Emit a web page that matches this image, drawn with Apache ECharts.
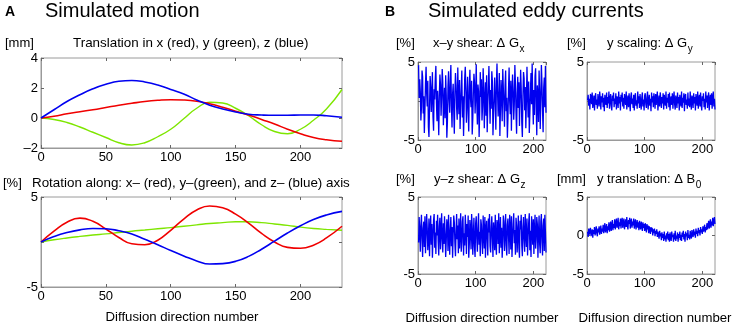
<!DOCTYPE html>
<html>
<head>
<meta charset="utf-8">
<script src="https://cdn.jsdelivr.net/npm/echarts@6/dist/echarts.min.js"></script>
<style>
html, body { margin: 0; padding: 0; background: #fff; }
#main { width: 737px; height: 326px; }
</style>
</head>
<body>
<div id="main"></div>
<script>
// ---- panel A: simulated motion (smooth curves, read every 10 directions) ----
var motionX = [0, 10, 20, 30, 40, 50, 60, 70, 80, 90, 100, 110, 120, 130, 140, 150, 160, 170, 180, 190, 200, 210, 220, 232];

var transX = [0, 0.12, 0.28, 0.42, 0.55, 0.7, 0.85, 0.98, 1.1, 1.18, 1.22, 1.2, 1.12, 0.95, 0.72, 0.45, 0.2, -0.1, -0.4, -0.75, -1.05, -1.3, -1.45, -1.55];
var transY = [0, -0.1, -0.3, -0.6, -0.95, -1.3, -1.65, -1.8, -1.65, -1.25, -0.75, -0.05, 0.65, 1.05, 1.0, 0.65, 0.15, -0.45, -0.9, -1.05, -0.75, -0.15, 0.6, 1.9];
var transZ = [0, 0.55, 1.1, 1.55, 1.95, 2.25, 2.45, 2.5, 2.4, 2.2, 1.9, 1.6, 1.2, 0.85, 0.6, 0.4, 0.25, 0.2, 0.18, 0.18, 0.2, 0.2, 0.15, 0.05];

var rotX = [0, 1.2, 2.2, 2.65, 2.3, 1.45, 0.5, -0.2, -0.3, 0.2, 1.3, 2.55, 3.55, 4.0, 3.8, 3.1, 2.1, 0.95, 0.0, -0.6, -0.7, -0.35, 0.45, 1.75];
var rotY = [0, 0.25, 0.45, 0.62, 0.77, 0.9, 1.05, 1.2, 1.33, 1.47, 1.6, 1.75, 1.9, 2.05, 2.15, 2.25, 2.25, 2.15, 2.0, 1.85, 1.65, 1.5, 1.4, 1.3];
var rotZ = [0, 0.6, 1.05, 1.35, 1.5, 1.47, 1.25, 0.9, 0.3, -0.3, -0.95, -1.55, -2.1, -2.45, -2.4, -2.15, -1.6, -0.8, 0.1, 1.0, 1.8, 2.5, 3.0, 3.4];

// ---- panel B: simulated eddy currents (one value per direction, 1..222) ----
var shearGx = [
  4.6, 0.4, 2.8, 1.2, -2.5, -0.8, 3.9, 3.1, -1.6, 0.6, -4.1, -1.2, 2.3, 4.4, 1.0, -0.7, 2.6, -3.3, -4.6, -0.9,
  3.2, 1.8, -1.4, 0.9, 3.7, -2.0, -3.8, 1.5, 0.2, 2.9, 4.5, -0.3, -2.6, 1.3, -1.1, -4.4, 0.7, 3.4, 2.1, -1.9,
  0.5, 4.1, 2.4, -3.1, -0.4, 1.7, -2.2, 3.3, 0.8, -4.7, -2.7, 1.9, 3.8, 0.1, -1.5, 2.5, 4.6, -0.6, -3.4, 0.9,
  2.2, -1.3, -4.2, 1.1, 3.6, 2.0, -0.9, -2.4, 4.3, 0.3, -1.7, 2.7, -3.6, -0.5, 1.6, 3.9, -2.1, 0.6, -4.5, -1.0,
  2.9, 4.4, 1.4, -2.8, 0.0, 3.1, -1.2, -3.9, 1.8, 4.0, 0.4, -0.8, 2.6, -4.3, -2.3, 1.0, 3.5, 2.3, -1.6, 0.7,
  4.7, -0.2, -3.0, 2.1, 1.2, -4.6, -1.4, 3.7, 0.5, 2.8, -2.5, -0.6, 4.2, 1.6, -3.5, 0.3, 2.4, -1.9, 3.3, -4.0,
  -0.7, 1.9, 4.5, 0.8, -2.9, 1.4, -1.0, 3.8, 2.5, -4.4, -1.8, 0.6, 3.0, -0.3, -3.7, 2.2, 4.8, 1.1, -2.0, 0.2,
  3.6, -4.5, -1.1, 2.7, 0.9, -2.6, 4.1, 1.7, -0.5, -3.3, 2.0, 3.9, -1.3, 0.4, -4.7, -2.2, 1.5, 4.3, 0.0, -1.7,
  2.6, -3.8, 0.8, 3.4, 1.3, -2.4, -0.4, 4.6, 2.2, -1.5, -4.2, 1.0, 3.1, -0.9, 2.4, -3.2, 0.5, 4.0, 1.6, -2.8,
  -4.6, 0.7, 3.7, 2.9, -1.2, 1.8, -3.5, -0.2, 4.4, 0.9, -2.1, 2.5, -4.1, -1.6, 1.2, 3.6, -0.4, 4.8, 0.3, -3.0,
  1.4, -1.8, 3.2, 4.2, -0.6, -4.4, 2.0, 0.6, -2.7, 3.9, 1.1, -3.6, 0.2, 4.6, 2.3, -1.3, -4.0, 1.7, 3.0, -0.8,
  4.5, -1.5
];
var scaleGy = [
  0.1, 0.8, -0.6, 0.3, -1.1, 0.9, 0.5, -0.4, 1.1, -0.9, -0.2, 0.7, -1.2, 0.4, 1.0, -0.5, 0.2, -1.0, 0.9, 0.0,
  -0.7, 1.2, 0.3, -1.1, 0.6, -0.2, 1.0, -0.8, 0.4, -1.3, 0.8, 0.1, -0.5, 1.1, -0.9, 0.5, -0.3, 1.2, -1.0, 0.2,
  0.9, -0.6, -1.2, 0.7, 0.0, 1.1, -0.8, 0.3, -0.4, 1.0, -1.1, 0.6, 0.2, -0.9, 1.2, -0.3, 0.5, -1.2, 0.8, -0.1,
  1.1, -0.7, 0.4, -1.0, 0.9, 0.2, -0.5, 1.2, -1.1, 0.0, 0.7, -0.8, 1.0, -0.2, -1.3, 0.6, 1.1, -0.4, 0.3, -0.9,
  0.8, -1.2, 0.5, 1.0, -0.6, 0.1, -1.0, 1.2, -0.3, 0.6, -0.9, 0.9, -0.1, -1.1, 0.4, 1.1, -0.7, 0.2, -1.2, 0.7,
  1.0, -0.4, -0.9, 0.5, 1.2, -1.1, 0.0, 0.8, -0.6, 0.3, -1.3, 1.1, -0.2, 0.6, -0.8, 1.0, 0.2, -1.0, 0.9, -0.5,
  0.4, 1.2, -1.2, -0.1, 0.7, -0.7, 1.1, 0.3, -0.9, 0.5, -0.3, 1.0, -1.1, 0.8, 0.0, -0.6, 1.2, -1.0, 0.4, -0.2,
  0.9, -0.8, 1.1, -1.2, 0.2, 0.6, -0.5, 1.0, -1.0, 0.3, 1.2, -0.4, -1.1, 0.7, 0.1, -0.9, 1.1, -0.3, 0.5, -1.2,
  0.8, 0.0, -0.7, 1.2, -0.9, 0.4, -0.2, 1.0, -1.3, 0.6, 0.9, -0.5, 0.2, -1.0, 1.1, -0.6, 0.3, -0.8, 1.2, -0.1,
  -1.1, 0.7, 0.4, -0.9, 1.0, -0.3, 0.5, -1.2, 0.9, 0.1, -0.6, 1.2, -1.0, 0.2, 0.8, -0.7, 1.1, -0.4, -1.2, 0.6,
  0.0, 1.0, -0.8, 0.3, -1.1, 1.2, -0.2, 0.7, -0.9, 0.5, 1.1, -1.2, 0.1, 0.8, -0.5, 1.0, -1.0, 0.4, 1.2, -0.7,
  0.3, -1.1
];
var shearGz = [
  -0.9, 2.4, 0.6, -2.1, 1.3, 2.7, -0.4, -2.8, 0.9, 1.8, -1.5, 2.5, -2.3, 0.2, 2.8, 1.0, -1.9, -0.5, 2.2, -2.7,
  0.7, 2.6, -1.2, 1.5, -2.9, -0.3, 2.0, 2.8, -1.6, 0.4, -2.4, 1.9, 0.0, 2.7, -0.8, -2.6, 1.2, 2.3, -1.8, 0.5,
  2.9, -0.6, -2.2, 1.6, -1.1, 2.5, 0.3, -2.8, -0.7, 2.1, 1.4, -2.0, 2.7, -0.2, -2.5, 0.8, 2.4, -1.4, 1.1, -2.9,
  0.1, 2.6, 1.7, -1.0, -2.7, 0.6, 2.8, -0.5, 1.3, -2.3, 2.2, -1.7, 0.4, 2.9, -2.1, -0.9, 1.8, 2.5, -2.6, 0.3,
  -1.3, 2.7, 0.9, -2.4, 1.5, -0.2, 2.6, -2.9, -1.1, 2.0, 0.7, -1.8, 2.8, 1.2, -2.5, 0.0, 2.3, -1.5, -2.8, 1.6,
  2.5, -0.4, -2.1, 1.0, 2.9, -1.2, 0.5, -2.7, 2.1, 1.4, -0.8, -2.4, 2.6, 0.2, -1.7, 2.4, -2.9, 0.8, 1.9, -0.6,
  -2.6, 2.2, 0.4, 2.8, -1.4, -2.2, 1.1, 2.5, -0.3, -2.8, 1.7, 0.6, -1.9, 2.7, -0.9, -2.5, 2.0, 1.3, -1.1, 2.9,
  -2.3, 0.3, 2.4, -1.6, 1.0, -2.9, -0.7, 2.6, 1.8, -2.0, 0.5, 2.8, -1.3, -2.6, 1.4, 2.2, -0.1, -2.4, 2.7, 0.9,
  -1.8, 2.5, -2.8, -0.4, 1.6, 2.9, -1.0, 0.7, -2.5, 2.3, 1.2, -2.2, 0.2, 2.6, -1.6, -2.9, 1.9, 0.8, 2.7, -1.3,
  -2.7, 1.1, 2.4, -0.6, -2.1, 2.8, 0.4, -1.5, 2.2, -2.6, -0.2, 1.7, 2.9, -1.9, 0.6, -2.8, 2.5, 1.0, -1.2, 2.1,
  -2.4, 0.9, 2.7, -1.7, -0.5, 2.4, 1.5, -2.9, 0.3, 2.6, -1.1, -2.3, 1.8, 2.8, -0.8, -2.6, 1.3, 2.2, -2.0, 2.7,
  0.5, -2.2
];
var transB0 = [
  0.5, -0.2, 0.9, 0.1, 0.6, 1.0, -0.1, 0.4, 0.8, -0.3, 0.7, 0.2, 1.1, 0.0, 0.5, 1.2, 0.3, -0.1, 0.9, 0.4,
  1.2, 0.1, 0.7, 1.3, 0.2, 0.9, 0.5, 1.4, 0.3, 1.0, 1.6, 0.4, 0.8, 1.5, 0.3, 1.2, 0.7, 1.7, 0.5, 1.1,
  1.8, 0.6, 1.3, 2.0, 0.7, 1.5, 1.0, 2.1, 0.8, 1.6, 2.2, 1.0, 1.4, 2.3, 0.8, 1.7, 1.2, 2.2, 0.9, 1.9,
  2.3, 1.0, 1.6, 2.2, 0.8, 1.4, 2.1, 1.1, 2.4, 1.3, 0.8, 2.0, 1.5, 2.3, 0.9, 1.7, 2.2, 1.0, 1.8, 1.3,
  2.2, 0.9, 1.6, 2.1, 0.8, 1.4, 2.0, 1.0, 1.7, 0.7, 1.9, 1.2, 0.8, 1.8, 1.3, 0.6, 1.7, 1.0, 1.5, 0.6,
  1.6, 1.0, 0.4, 1.5, 0.8, 1.3, 0.3, 1.2, 0.7, 0.2, 1.1, 0.5, 1.0, 0.0, 0.8, 0.3, 0.9, -0.1, 0.6, 0.2,
  0.8, -0.2, 0.5, 0.1, -0.4, 0.6, -0.1, 0.3, -0.6, 0.4, -0.3, 0.2, -0.7, 0.5, -0.5, 0.0, -0.8, 0.3, -0.4, 0.5,
  -0.6, 0.2, -0.8, 0.4, -0.3, -0.7, 0.5, -0.2, 0.1, -0.8, 0.3, -0.5, 0.6, -0.7, 0.0, -0.4, 0.4, -0.8, 0.2, -0.3,
  0.5, -0.6, 0.1, -0.7, 0.4, -0.2, 0.6, -0.5, 0.2, -0.8, 0.5, -0.1, 0.3, -0.6, 0.7, -0.3, 0.1, -0.5, 0.6, 0.0,
  -0.4, 0.7, 0.1, -0.2, 0.8, 0.0, 0.5, -0.3, 0.9, 0.2, 0.6, -0.1, 1.0, 0.3, 0.7, 0.0, 1.1, 0.4, 0.8, 0.2,
  1.2, 0.5, 0.9, 1.4, 0.4, 1.1, 0.7, 1.6, 0.8, 1.3, 1.9, 0.9, 1.5, 2.1, 1.0, 1.8, 1.3, 2.3, 1.2, 1.9,
  2.4, 1.5
];

var FONT = '"Liberation Sans", Arial, sans-serif';
var BOX = '#9a9a9a';
var RED = '#f00000', GREEN = '#7ee600', BLUE = '#0000f0';

var chart = echarts.init(document.getElementById('main'));

// plot boxes, in pixels
var boxes = [
  { left: 41, top: 58, width: 301, height: 90 },   // A translation
  { left: 41, top: 197, width: 301, height: 90 },  // A rotation
  { left: 418, top: 62, width: 128, height: 78 },  // B Gx
  { left: 587, top: 62, width: 128, height: 78 },  // B Gy
  { left: 418, top: 197, width: 128, height: 77 }, // B Gz
  { left: 587, top: 197, width: 128, height: 77 }  // B B0
];

var xAxes = [], yAxes = [];
function addAxes(gi, xmax, xint, ymin, ymax, yint, yfmt) {
  var tick = { inside: true, length: 3, lineStyle: { color: '#666' } };
  xAxes.push({
    type: 'value', gridIndex: gi, min: 0, max: xmax, interval: xint,
    axisLine: { show: true, onZero: false, lineStyle: { color: BOX } },
    axisTick: tick, splitLine: { show: false },
    axisLabel: { color: '#000', fontSize: 13, fontFamily: FONT, margin: 3, showMaxLabel: false }
  });
  // matlab box: ticks on the top and right edges too
  xAxes.push({
    type: 'value', gridIndex: gi, position: 'top', min: 0, max: xmax, interval: xint,
    axisLine: { show: false, onZero: false }, axisTick: tick, splitLine: { show: false },
    axisLabel: { show: false }
  });
  yAxes.push({
    type: 'value', gridIndex: gi, min: ymin, max: ymax, interval: yint,
    axisLine: { show: true, onZero: false, lineStyle: { color: BOX } },
    axisTick: tick, splitLine: { show: false },
    axisLabel: { color: '#000', fontSize: 13, fontFamily: FONT, margin: 3, formatter: yfmt }
  });
  yAxes.push({
    type: 'value', gridIndex: gi, position: 'right', min: ymin, max: ymax, interval: yint,
    axisLine: { show: false, onZero: false }, axisTick: tick, splitLine: { show: false },
    axisLabel: { show: false }
  });
}
var dashMinus = function (v) { return v < 0 ? '\u2013' + (-v) : String(v); };
var noZero = function (v) { return v === 0 ? '' : String(v); };
addAxes(0, 232, 50, -2, 4, 2, dashMinus);
addAxes(1, 232, 50, -5, 5, 5, noZero);
addAxes(2, 222, 100, -5, 5, 5, noZero);
addAxes(3, 222, 100, -5, 5, 5, noZero);
addAxes(4, 222, 100, -5, 5, 5, noZero);
addAxes(5, 222, 100, -5, 5, 5, function (v) { return String(v); });

function pairs(xs, ys) { return ys.map(function (y, i) { return [xs[i], y]; }); }
function indexed(ys) { return ys.map(function (y, i) { return [i + 1, y]; }); }

function line(gi, data, color, width, smooth) {
  return {
    type: 'line', xAxisIndex: gi * 2, yAxisIndex: gi * 2, data: data,
    smooth: smooth, showSymbol: false, symbol: 'none', animation: false,
    lineStyle: { color: color, width: width }
  };
}

var series = [
  line(0, pairs(motionX, transY), GREEN, 1.4, true),
  line(0, pairs(motionX, transX), RED, 1.6, true),
  line(0, pairs(motionX, transZ), BLUE, 1.6, true),
  line(1, pairs(motionX, rotY), GREEN, 1.4, true),
  line(1, pairs(motionX, rotX), RED, 1.6, true),
  line(1, pairs(motionX, rotZ), BLUE, 1.6, true),
  line(2, indexed(shearGx), BLUE, 1.3, false),
  line(3, indexed(scaleGy), BLUE, 1.3, false),
  line(4, indexed(shearGz), BLUE, 1.3, false),
  line(5, indexed(transB0), BLUE, 1.3, false)
];

var measure = document.createElement('canvas').getContext('2d');
function txt(x, y, s, size, opts) {
  opts = opts || {};
  return {
    type: 'text', x: x, y: y, silent: true,
    style: {
      text: s, fill: '#000', font: (opts.bold ? 'bold ' : '') + size + 'px ' + FONT,
      align: opts.align || 'left', verticalAlign: 'middle'
    }
  };
}
// label with a subscript after it (Δ G_x etc.)
function subTxt(x, y, main, sub) {
  var font = '13px ' + FONT;
  measure.font = font;
  var w = measure.measureText(main).width;
  return [txt(x, y, main, 13), txt(x + w + 0.5, y + 6, sub, 10)];
}

var graphic = [
  txt(5, 12, 'A', 14, { bold: true }),
  txt(45, 11, 'Simulated motion', 20),
  txt(5, 43, '[mm]', 13),
  txt(73, 43, 'Translation in x (red), y (green), z (blue)', 13.4),
  txt(3, 183, '[%]', 13),
  txt(32, 183, 'Rotation along: x\u2013 (red), y\u2013(green), and z\u2013 (blue) axis', 13.4),
  txt(182, 317, 'Diffusion direction number', 13.2, { align: 'center' }),

  txt(385, 12, 'B', 14, { bold: true }),
  txt(428, 11, 'Simulated eddy currents', 20),
  txt(396, 43, '[%]', 13),
  txt(567, 43, '[%]', 13),
  txt(396, 179, '[%]', 13),
  txt(557, 179, '[mm]', 13),
  txt(482, 318, 'Diffusion direction number', 13.2, { align: 'center' }),
  txt(655, 318, 'Diffusion direction number', 13.2, { align: 'center' })
].concat(
  subTxt(433, 43, 'x\u2013y shear: \u0394 G', 'x'),
  subTxt(607, 43, 'y scaling: \u0394 G', 'y'),
  subTxt(434, 179, 'y\u2013z shear: \u0394 G', 'z'),
  subTxt(597, 179, 'y translation: \u0394 B', '0')
);

chart.setOption({
  backgroundColor: '#fff',
  animation: false,
  grid: boxes.map(function (b) {
    return { left: b.left, top: b.top, width: b.width, height: b.height, show: true, borderColor: BOX, borderWidth: 1, backgroundColor: 'transparent', outerBoundsMode: 'none' };
  }),
  xAxis: xAxes,
  yAxis: yAxes,
  series: series,
  graphic: graphic
});
</script>
</body>
</html>
